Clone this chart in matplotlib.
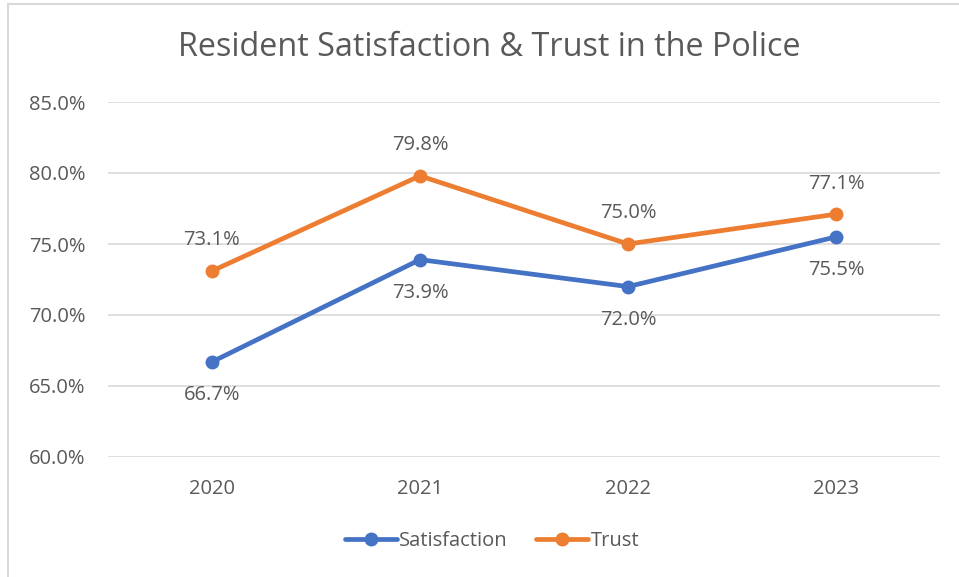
"""Resident satisfaction and trust in the police, 2020-2023."""

import matplotlib.pyplot as plt
from matplotlib.lines import Line2D
from matplotlib.patches import Rectangle
from matplotlib.ticker import FuncFormatter

YEARS = ["2020", "2021", "2022", "2023"]
SATISFACTION = [66.7, 73.9, 72.0, 75.5]
TRUST = [73.1, 79.8, 75.0, 77.1]

BLUE = "#4472C4"
ORANGE = "#ED7D31"
TEXT = "#595959"
GRID = "#D9D9D9"

plt.rcParams["font.family"] = ["Open Sans", "DejaVu Sans"]

fig = plt.figure(figsize=(9.59, 5.77), dpi=100)
ax = fig.add_axes([108 / 959, 1 - 457 / 577, (940 - 108) / 959, (457 - 102) / 577])

# chart-area frame
fig.add_artist(Rectangle((8 / 959, -0.05), 1.1, 1 - 4 / 577 + 0.05,
                         transform=fig.transFigure, fill=False,
                         edgecolor=GRID, linewidth=1.5))

x = list(range(len(YEARS)))
line_kw = dict(linewidth=3.4, marker="o", markersize=9, solid_capstyle="round")
ax.plot(x, SATISFACTION, color=BLUE, zorder=3, **line_kw)
ax.plot(x, TRUST, color=ORANGE, zorder=3, **line_kw)

for xi, val in zip(x, TRUST):
    ax.annotate(f"{val:.1f}%", (xi, val), xytext=(0, 22), textcoords="offset points",
                ha="center", va="center", fontsize=14.5, color=TEXT)
for xi, val in zip(x, SATISFACTION):
    ax.annotate(f"{val:.1f}%", (xi, val), xytext=(0, -24), textcoords="offset points",
                ha="center", va="center", fontsize=14.5, color=TEXT)

ax.set_xlim(-0.5, len(YEARS) - 0.5)
ax.set_ylim(60, 85)
ax.set_yticks([60, 65, 70, 75, 80, 85])
ax.yaxis.set_major_formatter(FuncFormatter(lambda v, _: f"{v:.1f}%"))
ax.set_xticks(x)
ax.set_xticklabels(YEARS)
ax.tick_params(axis="both", length=0, labelsize=14.5, labelcolor=TEXT)
ax.tick_params(axis="y", pad=16)
ax.tick_params(axis="x", pad=16)
ax.grid(axis="y", color=GRID, linewidth=1.2)
ax.set_axisbelow(True)
for spine in ax.spines.values():
    spine.set_visible(False)

fig.text(489 / 959, 1 - 47 / 577, "Resident Satisfaction & Trust in the Police",
         ha="center", va="center", fontsize=23.3, color=TEXT)

handles = [
    Line2D([], [], color=BLUE, linewidth=3.4, marker="o", markersize=9, solid_capstyle="round"),
    Line2D([], [], color=ORANGE, linewidth=3.4, marker="o", markersize=9, solid_capstyle="round"),
]
fig.legend(handles, ["Satisfaction", "Trust"], loc="center",
           bbox_to_anchor=(492 / 959, 1 - 541 / 577), ncol=2, frameon=False,
           fontsize=14.5, labelcolor=TEXT, handlelength=2.6, handletextpad=0.1,
           columnspacing=1.4)

fig.savefig("out.png", dpi=100)
